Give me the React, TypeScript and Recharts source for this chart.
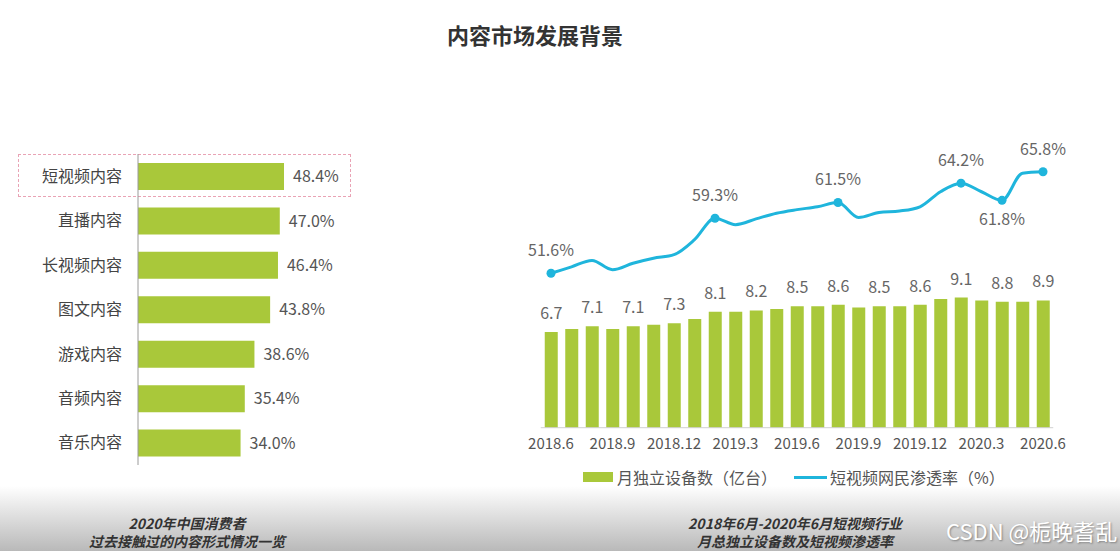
import { Bar, BarChart, ComposedChart, LabelList, Line, XAxis, YAxis } from "recharts";

const contentTypes = ["短视频内容", "直播内容", "长视频内容", "图文内容", "游戏内容", "音频内容", "音乐内容"];
const contentShares = [48.4, 47.0, 46.4, 43.8, 38.6, 35.4, 34.0];

const months = [
  "2018.6", "2018.7", "2018.8", "2018.9", "2018.10", "2018.11", "2018.12",
  "2019.1", "2019.2", "2019.3", "2019.4", "2019.5", "2019.6", "2019.7", "2019.8",
  "2019.9", "2019.10", "2019.11", "2019.12", "2020.1", "2020.2", "2020.3", "2020.4",
  "2020.5", "2020.6",
];
const deviceCounts = [6.7, 6.9, 7.1, 6.9, 7.1, 7.2, 7.3, 7.6, 8.1, 8.1, 8.2, 8.3, 8.5, 8.5, 8.6, 8.4, 8.5, 8.5, 8.6, 9.0, 9.1, 8.9, 8.8, 8.8, 8.9];
const penetrationRates = [51.6, 52.5, 53.4, 52.1, 53.0, 53.7, 54.2, 56.3, 59.3, 58.4, 59.2, 60.0, 60.5, 60.9, 61.5, 59.4, 60.1, 60.3, 60.9, 63.0, 64.2, 63.0, 61.8, 65.6, 65.8];
const labeledRateIndexes = [0, 8, 14, 20, 22, 24];
const rateLabelsBelow = [22];

const GREEN = "#a9c83a";
const BLUE = "#1fb5dc";
const FONT = '"Noto Sans CJK SC", "Open Sans", sans-serif';

const contentData = contentTypes.map((name, i) => ({ name, share: contentShares[i] }));

const trendData = months.map((month, i) => ({
  month,
  devices: deviceCounts[i],
  barLabel: i % 2 === 0 ? deviceCounts[i] : null,
  rate: penetrationRates[i],
}));

function renderRateDot(props: any) {
  const { cx, cy, index, value } = props;
  if (!labeledRateIndexes.includes(index)) return <g key={`dot-${index}`} />;
  const below = rateLabelsBelow.includes(index);
  return (
    <g key={`dot-${index}`}>
      <circle cx={cx} cy={cy} r={4.5} fill={BLUE} />
      <text x={cx} y={below ? cy + 25 : cy - 17} textAnchor="middle" fontSize={16} fill="#666" fontFamily={FONT}>
        {`${Number(value).toFixed(1)}%`}
      </text>
    </g>
  );
}

function ContentChart() {
  return (
    <BarChart
      width={380}
      height={500}
      layout="vertical"
      data={contentData}
      margin={{ top: 154, right: 61, bottom: 35, left: 0 }}
    >
      <XAxis type="number" domain={[0, 60]} hide />
      <YAxis
        type="category"
        dataKey="name"
        width={138}
        axisLine={{ stroke: "#9a9a9a" }}
        tickLine={false}
        tickSize={6}
        tickMargin={10}
        tick={{ fontSize: 16, fill: "#444", fontFamily: FONT }}
      />
      <Bar dataKey="share" fill={GREEN} barSize={27} isAnimationActive={false}>
        <LabelList
          dataKey="share"
          position="right"
          offset={9}
          formatter={(v: any) => `${Number(v).toFixed(1)}%`}
          style={{ fontSize: 16, fill: "#555", fontFamily: FONT }}
        />
      </Bar>
    </BarChart>
  );
}

function TrendChart() {
  return (
    <ComposedChart
      width={620}
      height={500}
      data={trendData}
      margin={{ top: 141.7, right: 46.75, bottom: 42.3, left: 60.75 }}
    >
      <XAxis
        dataKey="month"
        interval={2}
        height={30}
        tickLine={false}
        tickMargin={5}
        axisLine={{ stroke: "#d0d0d0" }}
        tick={{ fontSize: 15, fill: "#555", fontFamily: FONT }}
      />
      <YAxis yAxisId="bars" domain={[0, 20]} hide />
      <YAxis yAxisId="rate" orientation="right" domain={[30, 70]} hide />
      <Bar yAxisId="bars" dataKey="devices" fill={GREEN} barSize={13} isAnimationActive={false}>
        <LabelList
          dataKey="barLabel"
          position="top"
          offset={13}
          style={{ fontSize: 16, fill: "#666", fontFamily: FONT }}
        />
      </Bar>
      <Line
        yAxisId="rate"
        type="monotone"
        dataKey="rate"
        stroke={BLUE}
        strokeWidth={3}
        dot={renderRateDot}
        activeDot={false}
        isAnimationActive={false}
      />
    </ComposedChart>
  );
}

const captionStyle = {
  position: "absolute" as const,
  top: 514,
  width: 300,
  textAlign: "center" as const,
  fontSize: 14,
  lineHeight: "18px",
  fontStyle: "italic",
  fontWeight: "bold",
  color: "#333",
};

export default function App() {
  return (
    <div style={{ position: "relative", width: 1120, height: 551, background: "#fff", overflow: "hidden", fontFamily: FONT }}>
      <style>{"body{margin:0}"}</style>
      <div
        style={{
          position: "absolute",
          left: 385,
          top: 22,
          width: 300,
          textAlign: "center",
          fontSize: 22,
          lineHeight: "24px",
          fontWeight: "bold",
          color: "#333",
        }}
      >
        内容市场发展背景
      </div>

      <div style={{ position: "absolute", left: 18, top: 154, width: 333, height: 43, border: "1px dashed #e9a3b5", boxSizing: "border-box" }} />

      <div style={{ position: "absolute", left: 0, top: 0 }}>
        <ContentChart />
      </div>
      <div style={{ position: "absolute", left: 480, top: 0 }}>
        <TrendChart />
      </div>

      <div style={{ position: "absolute", left: 583, top: 467, display: "flex", alignItems: "center", fontSize: 16, color: "#555", lineHeight: "20px" }}>
        <span style={{ display: "inline-block", width: 30, height: 10, background: GREEN, marginRight: 4 }} />
        <span>月独立设备数（亿台）</span>
        <span style={{ display: "inline-block", width: 33, height: 3, background: BLUE, marginLeft: 17, marginRight: 3 }} />
        <span>短视频网民渗透率（%）</span>
      </div>

      <div style={{ position: "absolute", left: 0, top: 486, width: 1120, height: 65, background: "linear-gradient(#ffffff, #b9b9b9)" }} />
      <div style={{ ...captionStyle, left: 37 }}>
        <div>2020年中国消费者</div>
        <div>过去接触过的内容形式情况一览</div>
      </div>
      <div style={{ ...captionStyle, left: 645 }}>
        <div>2018年6月-2020年6月短视频行业</div>
        <div>月总独立设备数及短视频渗透率</div>
      </div>
      <div
        style={{
          position: "absolute",
          left: 946,
          top: 517,
          fontSize: 22,
          lineHeight: "26px",
          color: "#fff",
          textShadow: "1px 1px 2px rgba(0,0,0,0.35)",
          whiteSpace: "nowrap",
        }}
      >
        CSDN @栀晚耆乱
      </div>
    </div>
  );
}
